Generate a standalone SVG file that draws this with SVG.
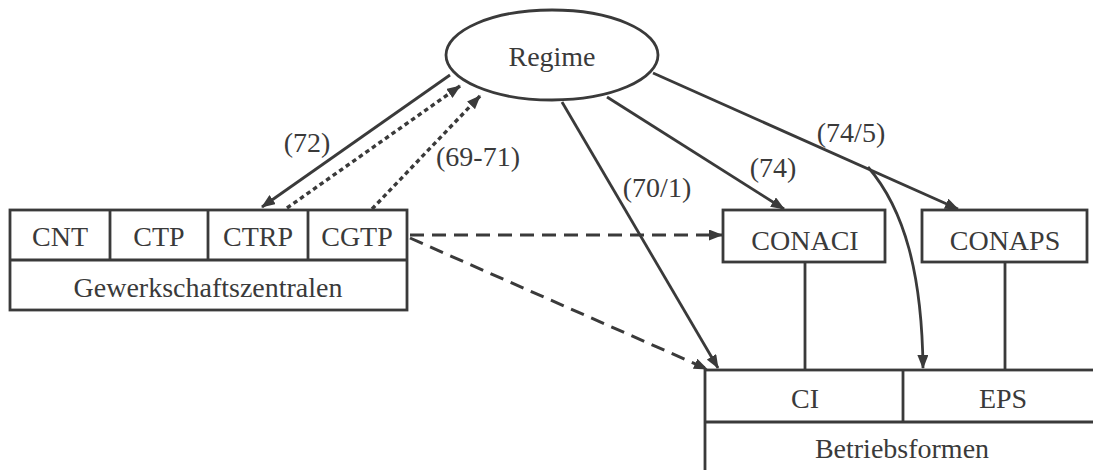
<svg xmlns="http://www.w3.org/2000/svg" width="1093" height="470" viewBox="0 0 1093 470">
<style>
  .box { fill: #fff; stroke: #3a3a3a; stroke-width: 2.8; }
  .ln { fill: none; stroke: #3a3a3a; stroke-width: 2.8; }
  .dot { fill: none; stroke: #3a3a3a; stroke-width: 3.4; stroke-dasharray: 4.5 3.5; }
  .dash { fill: none; stroke: #3a3a3a; stroke-width: 3; stroke-dasharray: 14 8; }
  text { font-family: "Liberation Serif", "Times New Roman", serif; font-size: 28px; fill: #3a3a3a; text-anchor: middle; }
</style>
<defs>
  <marker id="ah" viewBox="0 0 14 11" refX="13" refY="5.5" markerWidth="14" markerHeight="11" markerUnits="userSpaceOnUse" orient="auto">
    <path d="M0,0 L14,5.5 L0,11 Z" fill="#3a3a3a"/>
  </marker>
</defs>
<rect width="1093" height="470" fill="#fff"/>

<g id="connectors">
  <line class="ln" x1="450" y1="75" x2="262" y2="207" marker-end="url(#ah)"/>
  <line class="dot" x1="287" y1="208" x2="460" y2="86" marker-end="url(#ah)"/>
  <line class="dot" x1="372" y1="209" x2="480" y2="96" marker-end="url(#ah)"/>
  <line class="ln" x1="562" y1="102" x2="718" y2="368" marker-end="url(#ah)"/>
  <line class="ln" x1="607" y1="97" x2="784" y2="209" marker-end="url(#ah)"/>
  <line class="ln" x1="653" y1="73" x2="958" y2="209" marker-end="url(#ah)"/>
  <path class="ln" d="M868,167 C905,210 922,275 923,368" marker-end="url(#ah)"/>
  <line class="dash" x1="410" y1="235" x2="722" y2="235" marker-end="url(#ah)"/>
  <line class="dash" x1="410" y1="238" x2="707" y2="369" marker-end="url(#ah)"/>
  <line class="ln" x1="805" y1="262" x2="805" y2="370"/>
  <line class="ln" x1="1005" y1="262" x2="1005" y2="370"/>
  <text x="307" y="152">(72)</text>
  <text x="478" y="166">(69-71)</text>
  <text x="657" y="197">(70/1)</text>
  <text x="773" y="177">(74)</text>
  <text x="851" y="142">(74/5)</text>
</g>

<g id="regime">
  <ellipse class="box" cx="552" cy="55" rx="106" ry="45"/>
  <text x="552" y="66">Regime</text>
</g>

<g id="gewerkschaften">
  <rect class="box" x="10" y="210" width="397" height="100"/>
  <line class="ln" x1="10" y1="260" x2="407" y2="260"/>
  <line class="ln" x1="110" y1="210" x2="110" y2="260"/>
  <line class="ln" x1="208" y1="210" x2="208" y2="260"/>
  <line class="ln" x1="308" y1="210" x2="308" y2="260"/>
  <text x="60" y="246">CNT</text>
  <text x="159" y="246">CTP</text>
  <text x="258" y="246">CTRP</text>
  <text x="357" y="246">CGTP</text>
  <text x="208" y="297">Gewerkschaftszentralen</text>
</g>

<g id="conaci">
  <rect class="box" x="723" y="210" width="162" height="52"/>
  <text x="805" y="250">CONACI</text>
</g>

<g id="conaps">
  <rect class="box" x="922" y="210" width="165" height="52"/>
  <text x="1005" y="250">CONAPS</text>
</g>

<g id="betriebsformen">
  <rect class="box" x="705" y="370" width="400" height="110"/>
  <line class="ln" x1="705" y1="422" x2="1105" y2="422"/>
  <line class="ln" x1="903" y1="370" x2="903" y2="422"/>
  <text x="805" y="408">CI</text>
  <text x="1003" y="408">EPS</text>
  <text x="902" y="458">Betriebsformen</text>
</g>
</svg>
